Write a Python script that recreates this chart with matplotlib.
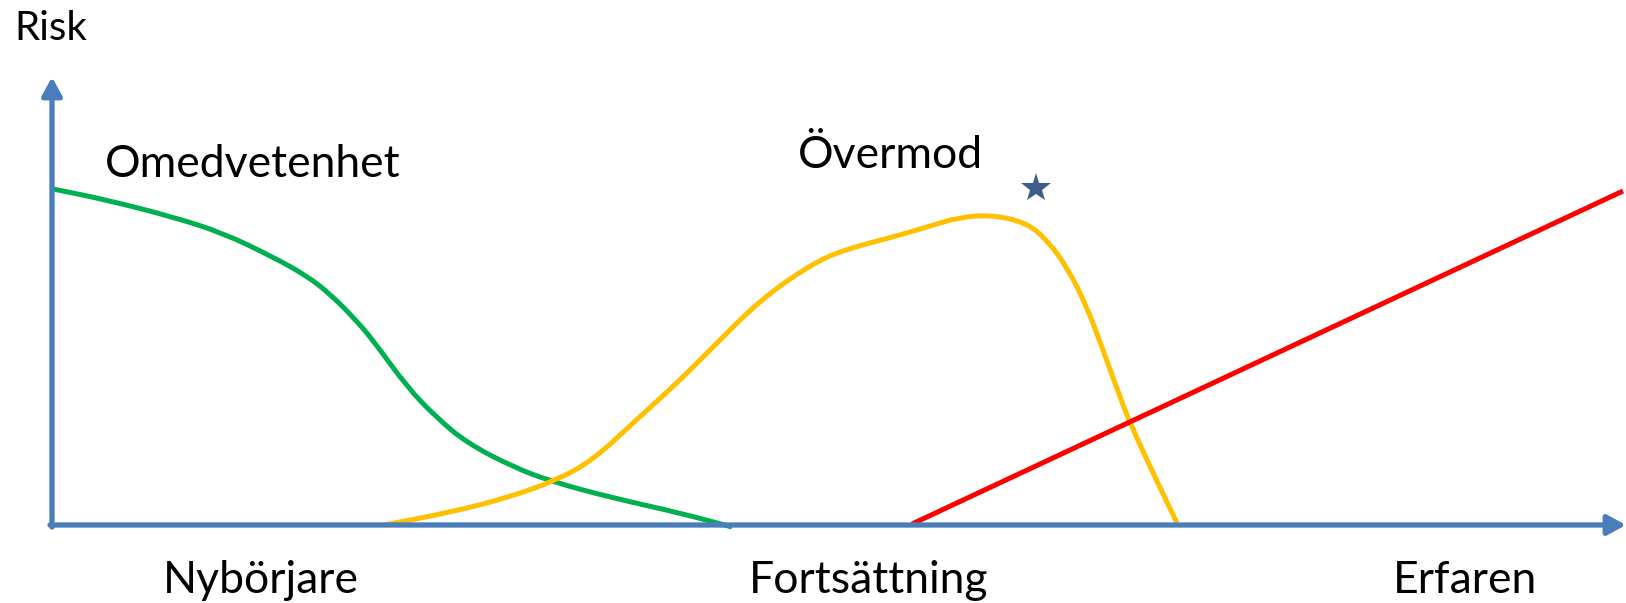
import matplotlib
matplotlib.use("Agg")
import matplotlib.pyplot as plt
from matplotlib.path import Path
from matplotlib.patches import PathPatch

plt.rcParams['font.family'] = ['Lato', 'DejaVu Sans']

# experience (x) vs risk (y), origin at the axes corner
green_x = [1, 55, 121, 171, 221, 255, 278, 301, 321, 355, 385, 415, 461, 501, 561, 628, 680]
green_y = [336, 325, 308, 292, 268, 249, 231, 208, 185, 138, 107, 82, 58, 43, 27, 12, -2]

yellow_x = [332, 395, 455, 505, 541, 581, 625, 658, 708, 758, 791, 841, 875, 908,
            941, 975, 995, 1015, 1035, 1051, 1068, 1078, 1101, 1125]
yellow_y = [0, 12, 27, 45, 65, 102, 142, 175, 225, 260, 275, 288, 298, 308,
            310, 302, 285, 258, 218, 175, 128, 102, 52, 2]

red_x = [860, 1571]
red_y = [1, 334]

star_xy = (984, 337)

stage_labels = ["Nybörjare", "Fortsättning", "Erfaren"]
stage_x = [111, 697, 1341]

AXIS = "#4A7EBB"


def smooth_curve(ax, xs, ys, color):
    # quadratic bezier through the midpoints, so the polyline corners are rounded off
    pts = list(zip(xs, ys))
    verts = [pts[0]]
    codes = [Path.MOVETO]
    mid = lambda a, b: ((a[0] + b[0]) / 2, (a[1] + b[1]) / 2)
    verts.append(mid(pts[0], pts[1]))
    codes.append(Path.LINETO)
    for i in range(1, len(pts) - 1):
        verts += [pts[i], mid(pts[i], pts[i + 1])]
        codes += [Path.CURVE3, Path.CURVE3]
    verts.append(pts[-1])
    codes.append(Path.LINETO)
    ax.add_patch(PathPatch(Path(verts, codes), fill=False, edgecolor=color,
                           lw=3.6, capstyle="butt", joinstyle="round"))


fig = plt.figure(figsize=(16.26, 6.03), dpi=100)
ax = fig.add_axes([0, 0, 1, 1])
ax.set_xlim(-52, 1574)
ax.set_ylim(-78, 525)
ax.axis("off")

# axes drawn as arrows
arrow = dict(arrowstyle="-|>,head_length=0.55,head_width=0.3", lw=3.8, color=AXIS,
             shrinkA=0, shrinkB=0, mutation_scale=20)
ax.annotate("", xy=(0, 448), xytext=(0, -2), arrowprops=arrow)
ax.annotate("", xy=(1574, 0), xytext=(-2, 0), arrowprops=arrow)

smooth_curve(ax, green_x, green_y, "#00B050")
smooth_curve(ax, yellow_x, yellow_y, "#FFC000")
ax.plot(red_x, red_y, color="#FF0000", lw=3.6, solid_capstyle="butt")
ax.plot(*star_xy, marker="*", markersize=22, color="#3B5E8C", markeredgewidth=0)

ax.text(-38, 485, "Risk", fontsize=29, ha="left", va="baseline")
ax.text(53, 348, "Omedvetenhet", fontsize=32, ha="left", va="baseline")
ax.text(746, 357, "Övermod", fontsize=32, ha="left", va="baseline")
for lbl, x in zip(stage_labels, stage_x):
    ax.text(x, -68, lbl, fontsize=32, ha="left", va="baseline")

fig.savefig("out.png", dpi=100)
